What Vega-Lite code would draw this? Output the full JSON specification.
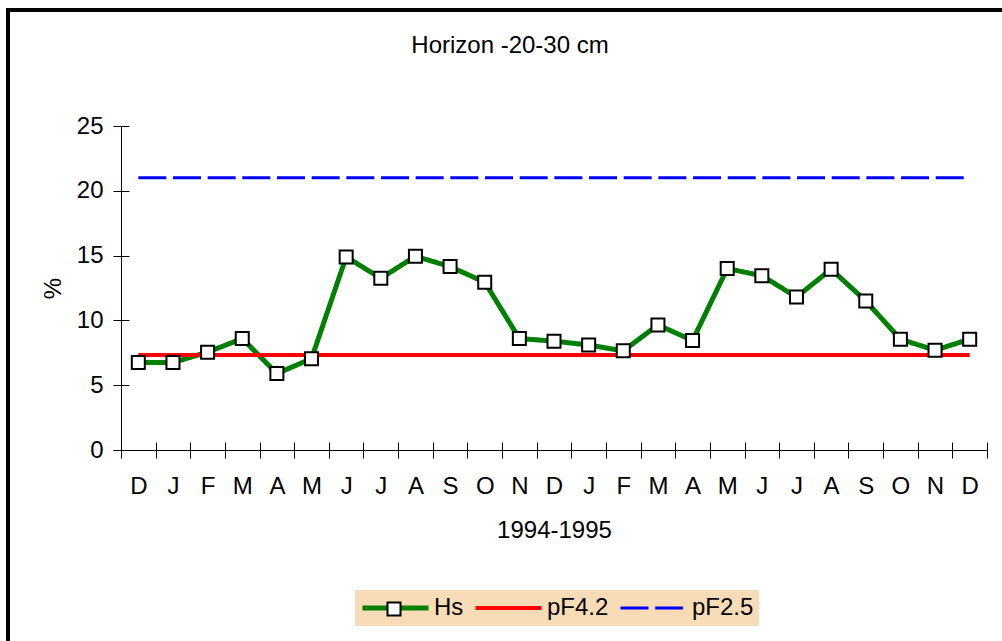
{
  "$schema": "https://vega.github.io/schema/vega-lite/v6.json",
  "width": 1000,
  "height": 637,
  "autosize": {"type": "none"},
  "padding": {"left": 8, "top": 10, "right": -6, "bottom": -6},
  "background": "white",
  "config": {
    "view": {"stroke": "black", "strokeWidth": 4},
    "font": "Liberation Sans"
  },
  "title": {
    "text": "Horizon -20-30 cm",
    "fontSize": 24,
    "fontWeight": "normal",
    "color": "black",
    "font": "Liberation Sans",
    "anchor": "middle",
    "frame": "group",
    "baseline": "middle",
    "offset": 0,
    "dy": 60,
    "dx": 2
  },
  "datasets": {
    "hs": [
      {"month": "1993-12", "value": 6.75, "series": "Hs", "marker": "Hs"},
      {"month": "1994-01", "value": 6.75, "series": "Hs", "marker": "Hs"},
      {"month": "1994-02", "value": 7.55, "series": "Hs", "marker": "Hs"},
      {"month": "1994-03", "value": 8.6, "series": "Hs", "marker": "Hs"},
      {"month": "1994-04", "value": 5.9, "series": "Hs", "marker": "Hs"},
      {"month": "1994-05", "value": 7.05, "series": "Hs", "marker": "Hs"},
      {"month": "1994-06", "value": 14.9, "series": "Hs", "marker": "Hs"},
      {"month": "1994-07", "value": 13.25, "series": "Hs", "marker": "Hs"},
      {"month": "1994-08", "value": 14.95, "series": "Hs", "marker": "Hs"},
      {"month": "1994-09", "value": 14.15, "series": "Hs", "marker": "Hs"},
      {"month": "1994-10", "value": 12.95, "series": "Hs", "marker": "Hs"},
      {"month": "1994-11", "value": 8.6, "series": "Hs", "marker": "Hs"},
      {"month": "1994-12", "value": 8.4, "series": "Hs", "marker": "Hs"},
      {"month": "1995-01", "value": 8.1, "series": "Hs", "marker": "Hs"},
      {"month": "1995-02", "value": 7.65, "series": "Hs", "marker": "Hs"},
      {"month": "1995-03", "value": 9.65, "series": "Hs", "marker": "Hs"},
      {"month": "1995-04", "value": 8.45, "series": "Hs", "marker": "Hs"},
      {"month": "1995-05", "value": 14.0, "series": "Hs", "marker": "Hs"},
      {"month": "1995-06", "value": 13.45, "series": "Hs", "marker": "Hs"},
      {"month": "1995-07", "value": 11.8, "series": "Hs", "marker": "Hs"},
      {"month": "1995-08", "value": 13.95, "series": "Hs", "marker": "Hs"},
      {"month": "1995-09", "value": 11.5, "series": "Hs", "marker": "Hs"},
      {"month": "1995-10", "value": 8.55, "series": "Hs", "marker": "Hs"},
      {"month": "1995-11", "value": 7.7, "series": "Hs", "marker": "Hs"},
      {"month": "1995-12", "value": 8.55, "series": "Hs", "marker": "Hs"}
    ],
    "ref": [
      {"month": "1993-12", "value": 7.33, "series": "pF4.2"},
      {"month": "1995-12", "value": 7.33, "series": "pF4.2"},
      {"month": "1993-12", "value": 21.0, "series": "pF2.5"},
      {"month": "1995-12", "value": 21.0, "series": "pF2.5"}
    ]
  },
  "layer": [
    {
      "data": {"name": "hs"},
      "mark": {"type": "line", "strokeWidth": 5, "strokeJoin": "round"},
      "encoding": {
        "x": {
          "field": "month",
          "type": "ordinal",
          "bandPosition": 0.5,
          "scale": {"type": "band", "range": [113, 979], "paddingInner": 0, "paddingOuter": 0},
          "axis": {
            "orient": "bottom",
            "offset": -197,
            "tickBand": "extent",
            "tickSize": 8,
            "tickColor": "black",
            "tickWidth": 1,
            "domainColor": "black",
            "domainWidth": 1,
            "grid": false,
            "labelAngle": 0,
            "labelFontSize": 24,
            "labelColor": "black",
            "labelPadding": 16,
            "labelExpr": "['J','F','M','A','M','J','J','A','S','O','N','D'][toNumber(substring(datum.value, 5, 7)) - 1]",
            "title": "1994-1995",
            "titleFontSize": 24,
            "titleFontWeight": "normal",
            "titleColor": "black",
            "titlePadding": 20
          }
        },
        "y": {
          "field": "value",
          "type": "quantitative",
          "scale": {"domain": [0, 25], "range": [440, 116], "nice": false, "zero": true},
          "axis": {
            "orient": "left",
            "offset": -113,
            "values": [0, 5, 10, 15, 20, 25],
            "tickSize": 8,
            "tickColor": "black",
            "tickWidth": 1,
            "domainColor": "black",
            "domainWidth": 1,
            "grid": false,
            "labelFontSize": 24,
            "labelColor": "black",
            "labelPadding": 10,
            "title": "%",
            "titleFontSize": 24,
            "titleFontWeight": "normal",
            "titleColor": "black",
            "titlePadding": 11
          }
        },
        "color": {
          "field": "series",
          "type": "nominal",
          "scale": {"domain": ["Hs", "pF4.2", "pF2.5"], "range": ["#008000", "#FF0000", "#0000FF"]},
          "legend": {
            "orient": "none",
            "legendX": 347,
            "legendY": 580,
            "direction": "horizontal",
            "columns": 3,
            "title": null,
            "fillColor": "#F8DCB8",
            "padding": 5,
            "columnPadding": 9,
            "labelFontSize": 24,
            "labelColor": "black",
            "labelOffset": 3,
            "symbolType": "stroke",
            "symbolSize": 4356,
            "symbolStrokeWidth": 4,
            "clipHeight": 26,
            "encode": {
              "symbols": {
                "update": {
                  "strokeWidth": {"signal": "datum.value === 'Hs' ? 5 : datum.value === 'pF4.2' ? 3 : 4"},
                  "strokeDash": {"signal": "datum.label === 'pF2.5' ? [28, 14] : [1, 0]"}
                }
              }
            }
          }
        },
        "strokeDash": {
          "field": "series",
          "type": "nominal",
          "scale": {"domain": ["Hs", "pF4.2", "pF2.5"], "range": [[1, 0], [1, 0], [28, 6.67]]}
        }
      }
    },
    {
      "data": {"name": "ref"},
      "mark": {"type": "line"},
      "encoding": {
        "x": {
          "field": "month",
          "type": "ordinal",
          "bandPosition": 0.5,
          "scale": {"type": "band", "range": [113, 979], "paddingInner": 0, "paddingOuter": 0},
          "axis": {
            "orient": "bottom",
            "offset": -197,
            "tickBand": "extent",
            "tickSize": -8,
            "tickColor": "black",
            "tickWidth": 1,
            "domain": false,
            "grid": false,
            "labels": false,
            "title": null
          }
        },
        "y": {
          "field": "value",
          "type": "quantitative",
          "scale": {"domain": [0, 25], "range": [440, 116], "nice": false, "zero": true},
          "axis": {
            "orient": "left",
            "offset": -113,
            "values": [0, 5, 10, 15, 20, 25],
            "tickSize": -8,
            "tickColor": "black",
            "tickWidth": 1,
            "domain": false,
            "grid": false,
            "labels": false,
            "title": null
          }
        },
        "color": {
          "field": "series",
          "type": "nominal",
          "scale": {"domain": ["Hs", "pF4.2", "pF2.5"], "range": ["#008000", "#FF0000", "#0000FF"]}
        },
        "strokeDash": {
          "field": "series",
          "type": "nominal",
          "scale": {"domain": ["Hs", "pF4.2", "pF2.5"], "range": [[1, 0], [1, 0], [28, 6.67]]}
        },
        "strokeWidth": {
          "field": "series",
          "type": "nominal",
          "scale": {"domain": ["Hs", "pF4.2", "pF2.5"], "range": [5, 3, 4]},
          "legend": null
        }
      }
    },
    {
      "data": {"name": "hs"},
      "mark": {"type": "point", "shape": "square", "filled": false, "fill": "white", "strokeWidth": 2, "size": 169, "opacity": 1, "fillOpacity": 1},
      "encoding": {
        "x": {"field": "month", "type": "ordinal", "bandPosition": 0.5, "axis": null},
        "y": {"field": "value", "type": "quantitative", "axis": null},
        "stroke": {
          "field": "marker",
          "type": "nominal",
          "scale": {"domain": ["Hs"], "range": ["black"]},
          "legend": {
            "orient": "none",
            "legendX": 378.5,
            "legendY": 591.5,
            "title": null,
            "padding": 0,
            "labelExpr": "''",
            "labelFontSize": 1,
            "labelOffset": 0,
            "symbolType": "square",
            "symbolSize": 169,
            "symbolFillColor": "white",
            "symbolStrokeWidth": 2,
            "symbolOpacity": 1,
            "encode": {
              "symbols": {
                "update": {
                  "fill": {"value": "white"},
                  "fillOpacity": {"value": 1},
                  "strokeWidth": {"value": 2}
                }
              }
            }
          }
        }
      }
    }
  ],
  "resolve": {"axis": {"x": "independent", "y": "independent"}}
}
